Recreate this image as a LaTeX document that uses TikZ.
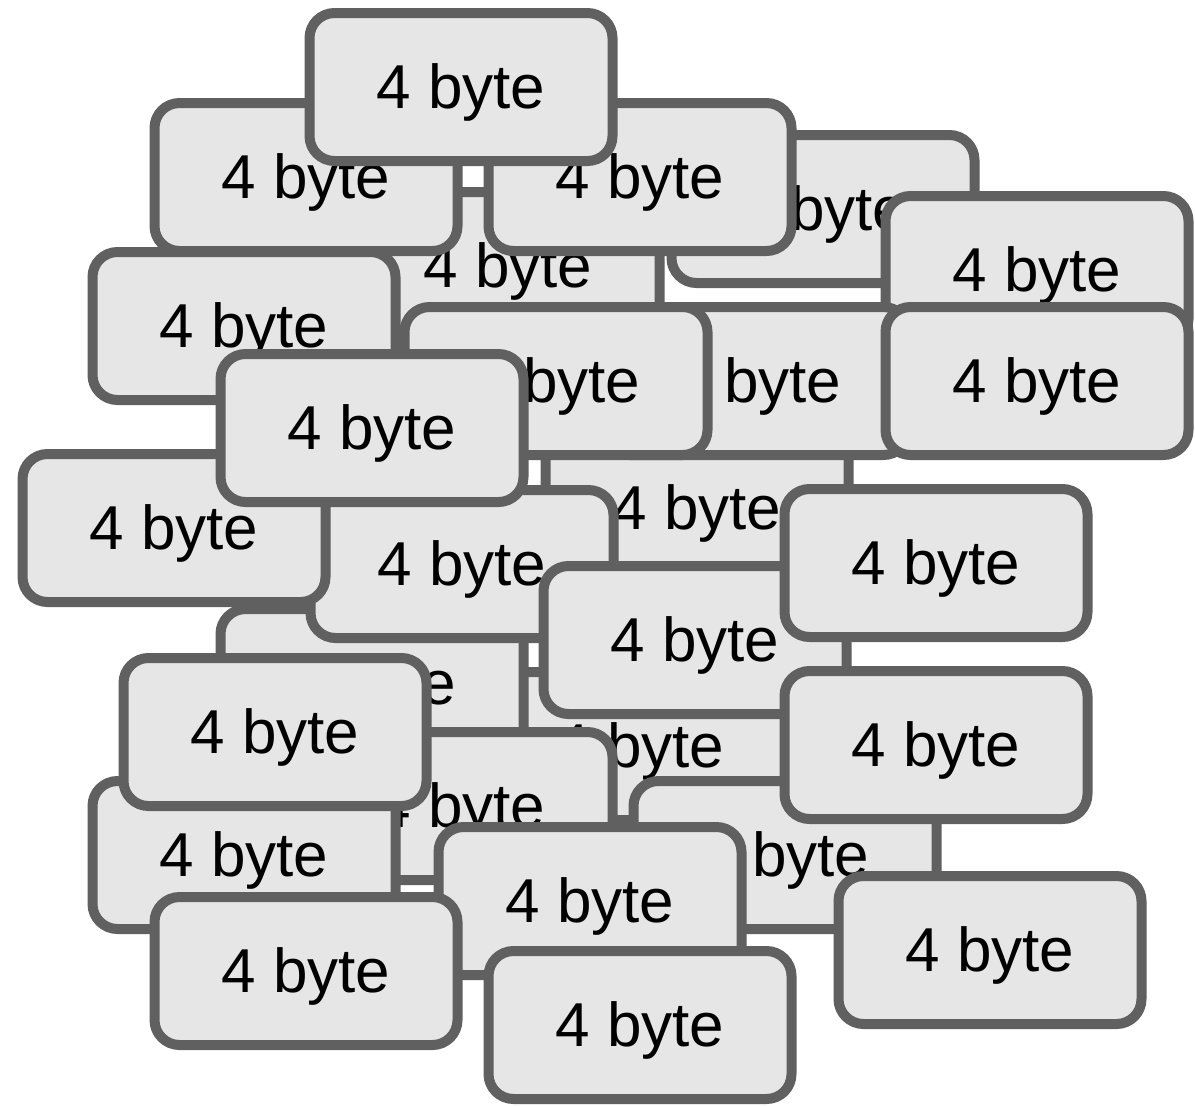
\documentclass[tikz,border=0pt]{standalone}
\usepackage{fontspec}
\setmainfont{Liberation Sans}
\definecolor{cellline}{HTML}{606060}
\definecolor{cellfill}{HTML}{E6E6E6}
\tikzset{
  cell/.style={draw=cellline, fill=cellfill, line width=5pt,
    rounded corners=12.5pt, minimum width=151.5pt, minimum height=74pt,
    inner sep=0pt, font=\fontsize{31}{37}\selectfont,
    text height=21.5pt, text depth=0pt}
}
\begin{document}
\begin{tikzpicture}[x=0.5pt,y=-0.5pt]
\useasboundingbox (0,0) rectangle (1195,1105);
% cells listed from the bottom of the pile to the top
\node[cell] (b4)  at (823,209)  {4 byte};
\node[cell] (b5)  at (508,266)  {4 byte};
\node[cell] (b2)  at (306,177)  {4 byte};
\node[cell] (b3)  at (640,177)  {4 byte};
\node[cell] (b1)  at (461,87)   {4 byte};
\node[cell] (b8)  at (244,326)  {4 byte};
\node[cell] (b6)  at (1037,270) {4 byte};
\node[cell] (b13) at (697,508)  {4 byte};
\node[cell] (b9)  at (757,381)  {4 byte};
\node[cell] (b7)  at (1037,381) {4 byte};
\node[cell] (b10) at (556,381)  {4 byte};
\node[cell] (b19) at (640,746)  {4 byte};
\node[cell] (b17) at (372,683)  {4 byte};
\node[cell] (b14) at (462,564)  {4 byte};
\node[cell] (b12) at (174,528)  {4 byte};
\node[cell] (b11) at (372,428)  {4 byte};
\node[cell] (b16) at (695,640)  {4 byte};
\node[cell] (b15) at (936,563)  {4 byte};
\node[cell] (b23) at (785,855)  {4 byte};
\node[cell] (b20) at (936,745)  {4 byte};
\node[cell] (b21) at (461,806)  {4 byte};
\node[cell] (b22) at (244,855)  {4 byte};
\node[cell] (b18) at (275,732)  {4 byte};
\node[cell] (b24) at (590,901)  {4 byte};
\node[cell] (b25) at (990,950)  {4 byte};
\node[cell] (b26) at (306,971)  {4 byte};
\node[cell] (b27) at (640,1025) {4 byte};
\end{tikzpicture}
\end{document}
